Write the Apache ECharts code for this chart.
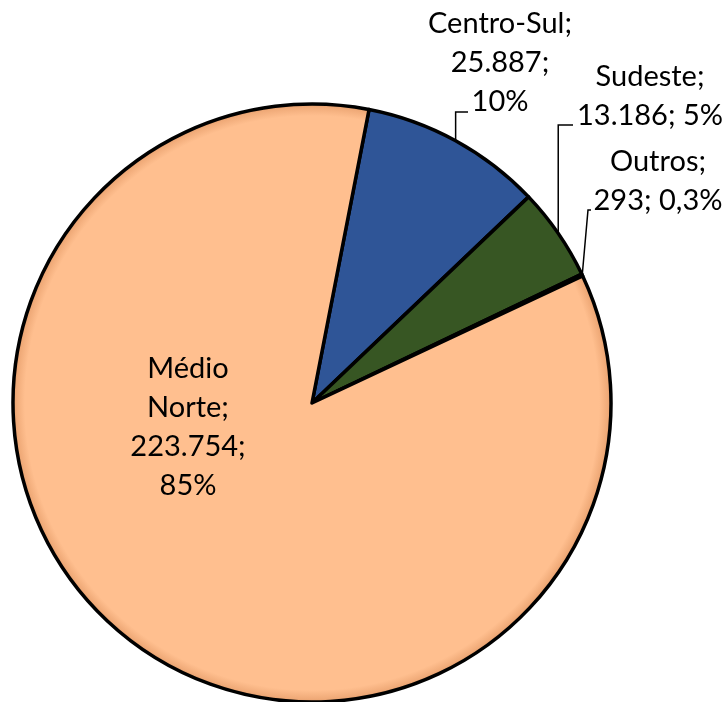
<!DOCTYPE html>
<html>
<head>
<meta charset="utf-8">
<script src="https://cdn.jsdelivr.net/npm/echarts@6/dist/echarts.min.js"></script>
<style>
  html, body { margin: 0; padding: 0; background: #fff; }
  #main { width: 726px; height: 702px; }
</style>
</head>
<body>
<div id="main"></div>
<script>
// dados da região (ordem horária a partir do topo)
const regions = ['Centro-Sul', 'Sudeste', 'Outros', 'Médio Norte'];
const values = [25887, 13186, 293, 223754];
const percents = ['10%', '5%', '0,3%', '85%'];
const colors = ['#2F5597', '#375623', '#7F7F7F', '#FFBF8F'];

// separador de milhar pt-BR
function fmt (v) {
  return String(v).replace(/\B(?=(\d{3})+(?!\d))/g, '.');
}

// quebras de linha como no rótulo original
const breaks = [['\n', '\n'], ['\n', ' '], ['\n', ' '], ['\n', '\n']];

let myChart = echarts.init(document.getElementById('main'), null, { renderer: 'canvas' });

// leve efeito de bisel na borda da fatia grande
function bevel (c) {
  return new echarts.graphic.RadialGradient(0.5, 0.5, 0.5, [
    { offset: 0, color: c },
    { offset: 0.955, color: c },
    { offset: 0.985, color: '#EFA977' },
    { offset: 1, color: '#C98A5C' }
  ]);
}

let option = {
  backgroundColor: '#fff',
  animation: false,
  series: [
    {
      type: 'pie',
      center: [312, 403],
      radius: 299,
      startAngle: 79,
      clockwise: true,
      avoidLabelOverlap: false,
      itemStyle: {
        borderColor: '#000',
        borderWidth: 3.5
      },
      label: {
        show: true,
        color: '#000',
        fontFamily: 'Lato',
        fontSize: 29,
        lineHeight: 39,
        align: 'center',
        formatter: function (p) {
          let i = p.dataIndex;
          let name = i === 3 ? p.name.replace(' ', '\n') : p.name;
          return name + ';' + breaks[i][0] + fmt(p.value) + ';' + breaks[i][1] + percents[i];
        }
      },
      labelLine: {
        show: true,
        lineStyle: { color: '#000', width: 1.5 }
      },
      labelLayout: function (params) {
        let i = params.dataIndex;
        // posição dos rótulos e linhas-guia
        let spots = [[500, 63], [650, 96], [658, 181], [188, 427]];
        let out = { x: spots[i][0], y: spots[i][1], align: 'center', verticalAlign: 'middle' };
        let p0 = params.labelLinePoints && params.labelLinePoints[0];
        if (p0) {
          if (i === 0) out.labelLinePoints = [p0, [p0[0], 112], [468, 112]];
          if (i === 1) out.labelLinePoints = [p0, [p0[0], 125], [573, 125]];
          if (i === 2) out.labelLinePoints = [p0, [588, 210], [591, 210]];
        }
        return out;
      },
      data: regions.map(function (name, i) {
        let item = { name: name, value: values[i], itemStyle: { color: colors[i] } };
        if (i === 3) {
          item.itemStyle.color = bevel(colors[i]);
          item.label = { position: 'inside' };
          item.labelLine = { show: false };
        }
        return item;
      })
    }
  ]
};

myChart.setOption(option);
</script>
</body>
</html>
